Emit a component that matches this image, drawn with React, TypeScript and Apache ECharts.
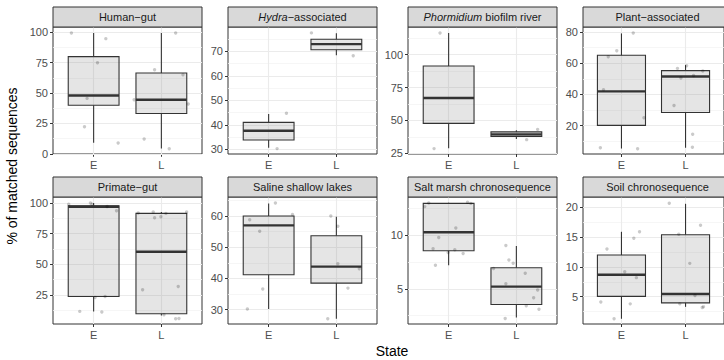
import React, { useEffect, useRef } from 'react';
import * as echarts from 'echarts';

// ---- data ----
const STATES = ['E', 'L'];

const PANEL_TITLES = [
  'Human−gut',
  '{i|Hydra}−associated',
  '{i|Phormidium} biofilm river',
  'Plant−associated',
  'Primate−gut',
  'Saline shallow lakes',
  'Salt marsh chronosequence',
  'Soil chronosequence',
];

// box stats per state: [lower whisker, Q1, median, Q3, upper whisker]
const HUMAN_GUT_BOX = [[9, 40, 48, 80, 99.5], [4.4, 33.2, 44.5, 66.5, 99.5]];
const HYDRA_BOX = [[30.6, 33.8, 37.6, 41.0, 44.4], [68.4, 70.6, 72.9, 74.9, 77.3]];
const PHORMIDIUM_BOX = [[28.8, 47.8, 67.1, 91.4, 116.5], [35.9, 37.9, 39.4, 41.3, 42.5]];
const PLANT_BOX = [[5.4, 20.2, 42, 65.1, 79.1], [5.9, 28.5, 51.5, 55.3, 58.8]];
const PRIMATE_GUT_BOX = [[11.4, 23.6, 96.9, 97.8, 100], [8.1, 9.5, 60.2, 91.5, 92.6]];
const SALINE_BOX = [[30.2, 41.2, 57, 60, 64], [27.1, 38.5, 43.8, 53.7, 59.8]];
const SALT_MARSH_BOX = [[7.2, 8.56, 10.3, 13.0, 13.05], [2.3, 3.53, 5.2, 6.97, 9.0]];
const SOIL_BOX = [[1.3, 5.05, 8.7, 12.0, 15.9], [3.3, 3.96, 5.45, 15.4, 20.6]];

// jittered observations: [state position (E = 1, L = 2), value]
const HUMAN_GUT_POINTS = [
  [0.672, 99.5], [1.18, 94.8], [1.057, 75], [0.903, 45.6], [0.865, 22.3], [1.362, 8.8],
  [2.211, 99.5], [1.9, 69.2], [2.319, 65.1], [1.598, 44.5], [2.397, 41], [1.746, 12.1], [2.116, 4.1],
];
const HYDRA_POINTS = [[1.263, 44.7], [1.125, 30.3], [1.632, 77.5], [2.249, 68.2]];
const PHORMIDIUM_POINTS = [[0.873, 116.5], [0.785, 28.6], [2.152, 35.4], [2.314, 43.2]];
const PLANT_POINTS = [
  [1.184, 79.4], [0.927, 68], [0.794, 64.2], [0.72, 43.1], [1.351, 25.1], [0.671, 5.9], [1.252, 5.3],
  [1.874, 56.7], [2.017, 58.4], [1.928, 50.5], [2.125, 52.2], [2.269, 55], [1.82, 33], [2.111, 14.5], [2.107, 6.2],
];
const PRIMATE_GUT_POINTS = [
  [0.632, 98.9], [0.953, 100], [0.977, 98.9], [1.199, 97.2], [1.338, 93.7], [1.021, 22.8], [1.169, 23.6],
  [0.795, 11.4], [1.121, 10.9],
  [1.658, 91.8], [1.88, 92.6], [1.9, 88], [1.993, 88.8], [2.067, 91.5], [2.373, 92.6], [1.723, 29.1],
  [2.249, 31.8], [2.038, 8.7], [2.211, 5.4], [2.26, 5.6],
];
const SALINE_POINTS = [
  [1.1, 64.2], [0.72, 58.8], [0.868, 55.1], [1.352, 60.5], [0.913, 36.6], [0.686, 30.2],
  [1.918, 60], [2.022, 56.7], [2.022, 44.7], [2.339, 43.1], [2.171, 36.9], [1.873, 27.1],
];
const SALT_MARSH_POINTS = [
  [0.706, 13.03], [0.647, 12.7], [1.279, 13.1], [1.328, 13.0], [1.106, 10.7], [0.854, 9.8], [0.77, 8.75],
  [1.091, 8.65], [0.992, 8.4], [1.214, 8.3], [0.805, 7.2],
  [1.845, 9.06], [1.89, 7.7], [1.953, 7.4], [2.131, 6.45], [1.663, 6.9], [1.845, 5.47], [2.314, 4.88],
  [2.255, 4.16], [2.146, 3.4], [2.334, 3.09], [1.835, 2.22],
];
const SOIL_POINTS = [
  [0.774, 13.0], [1.282, 15.9], [1.193, 14.8], [1.051, 9.2], [1.233, 8.2], [0.678, 4.1], [1.137, 3.8], [0.885, 1.3],
  [1.746, 20.7], [2.234, 17.0], [1.894, 15.5], [2.066, 10.6], [1.91, 3.8], [2.147, 5.2], [2.28, 3.3], [2.26, 3.2],
];

const BOXES = [HUMAN_GUT_BOX, HYDRA_BOX, PHORMIDIUM_BOX, PLANT_BOX, PRIMATE_GUT_BOX, SALINE_BOX, SALT_MARSH_BOX, SOIL_BOX];
const POINTS = [HUMAN_GUT_POINTS, HYDRA_POINTS, PHORMIDIUM_POINTS, PLANT_POINTS, PRIMATE_GUT_POINTS, SALINE_POINTS, SALT_MARSH_POINTS, SOIL_POINTS];

// free y scales, one per panel
const Y_LIMITS = [[-0.2, 104.4], [28.1, 79.9], [24.5, 121], [1.9, 83.2], [1.1, 104.9], [25.4, 66.1], [1.7, 13.6], [0.42, 21.74]];
const Y_TICKS = [
  [0, 25, 50, 75, 100], [30, 40, 50, 60, 70], [25, 50, 75, 100], [20, 40, 60, 80],
  [25, 50, 75, 100], [30, 40, 50, 60], [5, 10], [5, 10, 15, 20],
];
const Y_MINOR = [
  [12.5, 37.5, 62.5, 87.5], [35, 45, 55, 65, 75], [37.5, 62.5, 87.5, 112.5], [10, 30, 50, 70],
  [12.5, 37.5, 62.5, 87.5], [35, 45, 55, 65], [2.5, 7.5, 12.5], [2.5, 7.5, 12.5, 17.5],
];

const X_TITLE = 'State';
const Y_TITLE = '% of matched sequences';

// ---- layout & style ----
const FONT = '"Liberation Sans", Arial, Helvetica, sans-serif';
const PANEL_LEFT = [53, 228, 408, 583];
const PANEL_TOP = [27, 197];
const PANEL_W = 149;
const PANEL_H = 127;
const STRIP_H = 20;
const BOX_WIDTH = 0.75;
const INK = '#333333';

function buildOption() {
  const grid: any[] = [];
  const xAxis: any[] = [];
  const yAxis: any[] = [];
  const series: any[] = [];
  const graphic: any[] = [];

  PANEL_TITLES.forEach((title, i) => {
    const col = i % 4;
    const row = Math.floor(i / 4);
    const left = PANEL_LEFT[col];
    const top = PANEL_TOP[row];

    grid.push({
      left, top, width: PANEL_W, height: PANEL_H,
      show: true, borderColor: INK, borderWidth: 1, backgroundColor: 'transparent',
      containLabel: false,
    });

    xAxis.push({
      type: 'value', gridIndex: i, min: 0.4, max: 2.6,
      axisLine: { show: false },
      axisTick: { show: true, length: 3, customValues: [1, 2], lineStyle: { color: INK, width: 1 } },
      axisLabel: {
        customValues: [1, 2], margin: 5, fontSize: 11, color: '#4D4D4D', fontFamily: FONT,
        formatter: (v: number) => STATES[Math.round(v) - 1] ?? '',
      },
      splitLine: { show: false },
    });

    yAxis.push({
      type: 'value', gridIndex: i, min: Y_LIMITS[i][0], max: Y_LIMITS[i][1],
      axisLine: { show: false },
      axisTick: { show: true, length: 3, customValues: Y_TICKS[i], lineStyle: { color: INK, width: 1 } },
      axisLabel: { customValues: Y_TICKS[i], margin: 5, fontSize: 11, color: '#4D4D4D', fontFamily: FONT },
      splitLine: { show: false },
    });

    // panel grid lines, kept beneath the boxes
    series.push({
      type: 'line', xAxisIndex: i, yAxisIndex: i, data: [], z: 1, silent: true,
      markLine: {
        z: 1, silent: true, symbol: ['none', 'none'], label: { show: false }, animation: false,
        data: [
          ...Y_MINOR[i].map((v) => ({ yAxis: v, lineStyle: { color: '#F4F4F4', width: 0.8, type: 'solid' } })),
          ...Y_TICKS[i].map((v) => ({ yAxis: v, lineStyle: { color: '#EBEBEB', width: 1.1, type: 'solid' } })),
          ...[1, 2].map((v) => ({ xAxis: v, lineStyle: { color: '#EBEBEB', width: 1.1, type: 'solid' } })),
        ],
      },
    });

    // boxes with whiskers and a heavier median bar
    series.push({
      type: 'custom', xAxisIndex: i, yAxisIndex: i, z: 2, silent: true,
      data: BOXES[i].map((b, k) => [k + 1, ...b]),
      encode: { x: 0, y: [1, 2, 3, 4, 5] },
      renderItem: (_params: any, api: any) => {
        const x = api.value(0);
        const lo = api.coord([x, api.value(1)]);
        const q1 = api.coord([x, api.value(2)]);
        const med = api.coord([x, api.value(3)]);
        const q3 = api.coord([x, api.value(4)]);
        const hi = api.coord([x, api.value(5)]);
        const half = api.size([BOX_WIDTH, 0])[0] / 2;
        return {
          type: 'group',
          children: [
            {
              type: 'line', shape: { x1: lo[0], y1: lo[1], x2: q1[0], y2: q1[1] },
              style: { stroke: INK, lineWidth: 1.1 },
            },
            {
              type: 'line', shape: { x1: q3[0], y1: q3[1], x2: hi[0], y2: hi[1] },
              style: { stroke: INK, lineWidth: 1.1 },
            },
            {
              type: 'rect',
              shape: { x: q3[0] - half, y: q3[1], width: half * 2, height: q1[1] - q3[1] },
              style: { fill: 'rgba(127,127,127,0.2)', stroke: INK, lineWidth: 1.1 },
            },
            {
              type: 'line',
              shape: { x1: med[0] - half, y1: med[1], x2: med[0] + half, y2: med[1] },
              style: { stroke: INK, lineWidth: 2.4 },
            },
          ],
        };
      },
    });

    // jittered observations
    series.push({
      type: 'scatter', xAxisIndex: i, yAxisIndex: i, z: 3, silent: true,
      data: POINTS[i], symbolSize: 3.4,
      itemStyle: { color: 'rgba(0,0,0,0.26)' },
    });

    // facet strip
    graphic.push({
      type: 'rect', z: 10,
      shape: { x: left, y: top - STRIP_H, width: PANEL_W, height: STRIP_H },
      style: { fill: '#D9D9D9', stroke: INK, lineWidth: 1 },
    });
    graphic.push({
      type: 'text', z: 11,
      x: left + PANEL_W / 2, y: top - STRIP_H / 2,
      style: {
        text: title, fontSize: 11, fontFamily: FONT, fill: '#1A1A1A',
        align: 'center', verticalAlign: 'middle', textAlign: 'center', textVerticalAlign: 'middle',
        rich: { i: { fontStyle: 'italic', fontSize: 11, fontFamily: FONT, fill: '#1A1A1A' } },
      },
    });
  });

  graphic.push({
    type: 'text', z: 11, x: 392, y: 351,
    style: {
      text: X_TITLE, fontSize: 14, fontFamily: FONT, fill: '#000',
      align: 'center', verticalAlign: 'middle', textAlign: 'center', textVerticalAlign: 'middle',
    },
  });
  graphic.push({
    type: 'text', z: 11, x: 12, y: 166, rotation: Math.PI / 2,
    style: {
      text: Y_TITLE, fontSize: 14, fontFamily: FONT, fill: '#000',
      align: 'center', verticalAlign: 'middle', textAlign: 'center', textVerticalAlign: 'middle',
    },
  });

  return {
    animation: false,
    backgroundColor: '#ffffff',
    textStyle: { fontFamily: FONT },
    grid, xAxis, yAxis, series, graphic,
  };
}

export default function App() {
  const ref = useRef<HTMLDivElement>(null);

  useEffect(() => {
    if (!ref.current) return;
    const chart = echarts.init(ref.current, undefined, { renderer: 'svg' });
    chart.setOption(buildOption() as any);
    return () => chart.dispose();
  }, []);

  return (
    <div
      ref={ref}
      style={{ position: 'fixed', left: 0, top: 0, width: 724, height: 360, background: '#fff' }}
    />
  );
}
